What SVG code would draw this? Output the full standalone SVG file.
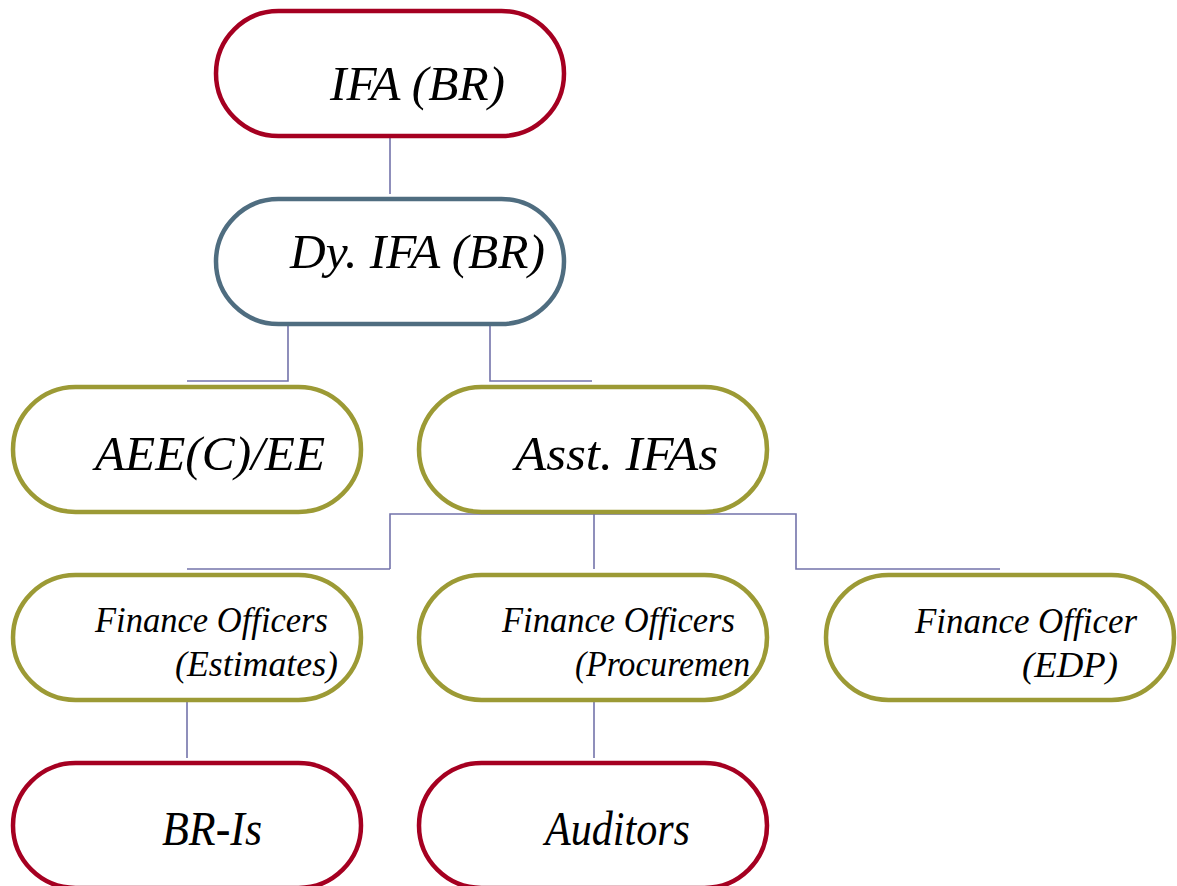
<svg xmlns="http://www.w3.org/2000/svg" width="1177" height="886" viewBox="0 0 1177 886">
<style>
.n{fill:#fff;stroke-width:4.5}
.r{stroke:#A50021}
.b{stroke:#4F6D80}
.o{stroke:#9C9A35}
.t{font-family:"Liberation Serif",serif;font-style:italic;fill:#000}
.big{font-size:48px}
.sm{font-size:35px}
.c{fill:none;stroke:#7373AA;stroke-width:1.6}
</style>
<rect width="1177" height="886" fill="#fff"/>
<g id="connectors">
<path class="c" d="M390 136V194"/>
<path class="c" d="M288 325V381H187"/>
<path class="c" d="M490 325V381H592"/>
<path class="c" d="M390 569V514H796V569H1000"/>
<path class="c" d="M390 569H187"/>
<path class="c" d="M594 514V569"/>
<path class="c" d="M187 700V758"/>
<path class="c" d="M594 700V758"/>
</g>
<g id="ifa"><rect class="n r" x="216" y="11" width="348" height="125" rx="62.5"/><text class="t big" x="330" y="100" textLength="175" lengthAdjust="spacingAndGlyphs">IFA (BR)</text></g>
<g id="dyifa"><rect class="n b" x="216" y="199" width="348" height="125" rx="62.5"/><text class="t big" x="290" y="268" textLength="255" lengthAdjust="spacingAndGlyphs">Dy. IFA (BR)</text></g>
<g id="aee"><rect class="n o" x="13" y="387" width="348" height="125" rx="62.5"/><text class="t big" x="95" y="470" textLength="230" lengthAdjust="spacingAndGlyphs">AEE(C)/EE</text></g>
<g id="asst"><rect class="n o" x="419" y="387" width="348" height="125" rx="62.5"/><text class="t big" x="515" y="470" textLength="203" lengthAdjust="spacingAndGlyphs">Asst. IFAs</text></g>
<g id="foest"><rect class="n o" x="13" y="575" width="348" height="125" rx="62.5"/><text class="t sm" x="95" y="632" textLength="233" lengthAdjust="spacingAndGlyphs">Finance Officers</text><text class="t sm" x="175" y="676" textLength="163" lengthAdjust="spacingAndGlyphs">(Estimates)</text></g>
<g id="foproc"><rect class="n o" x="419" y="575" width="348" height="125" rx="62.5"/><text class="t sm" x="502" y="632" textLength="233" lengthAdjust="spacingAndGlyphs">Finance Officers</text><text class="t sm" x="575" y="676" textLength="175" lengthAdjust="spacingAndGlyphs">(Procuremen</text></g>
<g id="foedp"><rect class="n o" x="826" y="575" width="348" height="125" rx="62.5"/><text class="t sm" x="915" y="633" textLength="222" lengthAdjust="spacingAndGlyphs">Finance Officer</text><text class="t sm" x="1022" y="677" textLength="96" lengthAdjust="spacingAndGlyphs">(EDP)</text></g>
<g id="bris"><rect class="n r" x="13" y="763" width="348" height="125" rx="62.5"/><text class="t big" x="162" y="845" textLength="100" lengthAdjust="spacingAndGlyphs">BR-Is</text></g>
<g id="auditors"><rect class="n r" x="419" y="763" width="348" height="125" rx="62.5"/><text class="t big" x="545" y="845" textLength="145" lengthAdjust="spacingAndGlyphs">Auditors</text></g>
</svg>
